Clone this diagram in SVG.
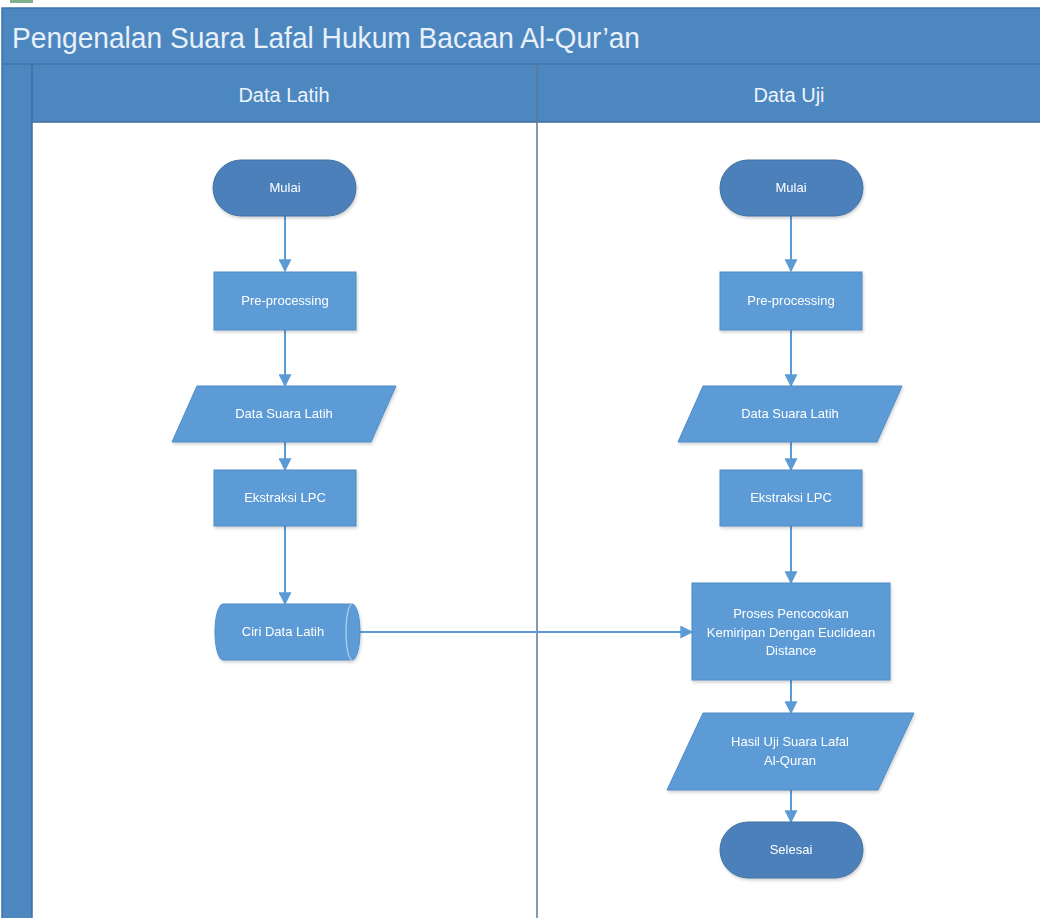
<svg xmlns="http://www.w3.org/2000/svg" width="1040" height="918" viewBox="0 0 1040 918">
<defs>
<style>
.frame{fill:#4d87c0;stroke:#3f74aa;stroke-width:1.5}
.proc{fill:#5b9bd5;stroke:#4f8cc6;stroke-width:1}
.term{fill:#4b80ba;stroke:#41739f;stroke-width:1}
.lbl{font-family:"Liberation Sans",Arial,sans-serif;font-size:13px;fill:#ffffff;text-anchor:middle}
.hdr{font-family:"Liberation Sans",Arial,sans-serif;font-size:20px;fill:#eef4fb;text-anchor:middle}
.conn{stroke:#5b9bd5;stroke-width:2;fill:none;marker-end:url(#arr)}
</style>
<marker id="arr" viewBox="0 0 10 10" refX="9" refY="5" markerWidth="6.5" markerHeight="6.5" markerUnits="strokeWidth" orient="auto">
<path d="M0,0 L10,5 L0,10 z" fill="#5b9bd5"/>
</marker>
<filter id="sh" x="-10%" y="-10%" width="130%" height="140%">
<feDropShadow dx="1" dy="2" stdDeviation="1.5" flood-color="#000" flood-opacity="0.18"/>
</filter>
</defs>
<rect x="0" y="0" width="1040" height="918" fill="#ffffff"/>
<rect x="10" y="0" width="23" height="3" fill="#7fb08a"/>
<g id="pool">
<rect class="frame" x="2" y="8" width="1040" height="912"/>
<rect x="32" y="122" width="1010" height="798" fill="#ffffff"/>
<line x1="2" y1="64" x2="1040" y2="64" stroke="#3f74aa" stroke-width="1.5"/>
<line x1="32" y1="64" x2="32" y2="918" stroke="#3f6e9c" stroke-width="1.5"/>
<line x1="32" y1="122" x2="1040" y2="122" stroke="#3f6e9c" stroke-width="1.5"/>
<line x1="537" y1="64" x2="537" y2="918" stroke="#5d7890" stroke-width="1.5"/>
<text x="12" y="48" font-family="'Liberation Sans',Arial,sans-serif" font-size="29" fill="#e8f0f9" textLength="628" lengthAdjust="spacingAndGlyphs">Pengenalan Suara Lafal Hukum Bacaan Al-Qur’an</text>
<text class="hdr" x="284" y="102">Data Latih</text>
<text class="hdr" x="789" y="102">Data Uji</text>
</g>
<g id="connectors">
<line class="conn" x1="285" y1="216" x2="285" y2="271"/>
<line class="conn" x1="285" y1="330" x2="285" y2="386"/>
<line class="conn" x1="285" y1="442" x2="285" y2="470"/>
<line class="conn" x1="285" y1="526" x2="285" y2="604"/>
<line class="conn" x1="791" y1="216" x2="791" y2="271"/>
<line class="conn" x1="791" y1="330" x2="791" y2="386"/>
<line class="conn" x1="791" y1="442" x2="791" y2="470"/>
<line class="conn" x1="791" y1="526" x2="791" y2="583"/>
<line class="conn" x1="791" y1="680" x2="791" y2="713"/>
<line class="conn" x1="791" y1="790" x2="791" y2="822"/>
<line class="conn" x1="360" y1="632" x2="692" y2="632"/>
</g>
<g id="mulai-latih" filter="url(#sh)">
<rect class="term" x="213" y="160" width="143" height="56" rx="28"/>
<text class="lbl" x="285" y="192">Mulai</text>
</g>
<g id="pre-latih" filter="url(#sh)">
<rect class="proc" x="214" y="272" width="142" height="58"/>
<text class="lbl" x="285" y="305">Pre-processing</text>
</g>
<g id="data-latih" filter="url(#sh)">
<polygon class="proc" points="197,386 396,386 371,442 172,442"/>
<text class="lbl" x="284" y="418">Data Suara Latih</text>
</g>
<g id="lpc-latih" filter="url(#sh)">
<rect class="proc" x="214" y="470" width="142" height="56"/>
<text class="lbl" x="285" y="502">Ekstraksi LPC</text>
</g>
<g id="ciri" filter="url(#sh)">
<path class="proc" d="M223,604 L352,604 A8,28 0 0 1 352,660 L223,660 A8,28 0 0 1 223,604 Z"/>
<path d="M352,604 A6,28 0 0 0 352,660" fill="none" stroke="#c9def2" stroke-width="1"/>
<text class="lbl" x="283" y="636">Ciri Data Latih</text>
</g>
<g id="mulai-uji" filter="url(#sh)">
<rect class="term" x="720" y="160" width="143" height="56" rx="28"/>
<text class="lbl" x="791" y="192">Mulai</text>
</g>
<g id="pre-uji" filter="url(#sh)">
<rect class="proc" x="720" y="272" width="142" height="58"/>
<text class="lbl" x="791" y="305">Pre-processing</text>
</g>
<g id="data-uji" filter="url(#sh)">
<polygon class="proc" points="703,386 902,386 877,442 678,442"/>
<text class="lbl" x="790" y="418">Data Suara Latih</text>
</g>
<g id="lpc-uji" filter="url(#sh)">
<rect class="proc" x="720" y="470" width="142" height="56"/>
<text class="lbl" x="791" y="502">Ekstraksi LPC</text>
</g>
<g id="proses" filter="url(#sh)">
<rect class="proc" x="692" y="583" width="198" height="97"/>
<text class="lbl" x="791" y="618">Proses Pencocokan</text>
<text class="lbl" x="791" y="637">Kemiripan Dengan Euclidean</text>
<text class="lbl" x="791" y="655">Distance</text>
</g>
<g id="hasil" filter="url(#sh)">
<polygon class="proc" points="703,713 914,713 878,790 667,790"/>
<text class="lbl" x="790" y="746">Hasil Uji Suara Lafal</text>
<text class="lbl" x="790" y="765">Al-Quran</text>
</g>
<g id="selesai" filter="url(#sh)">
<rect class="term" x="720" y="822" width="143" height="56" rx="28"/>
<text class="lbl" x="791" y="854">Selesai</text>
</g>
</svg>
